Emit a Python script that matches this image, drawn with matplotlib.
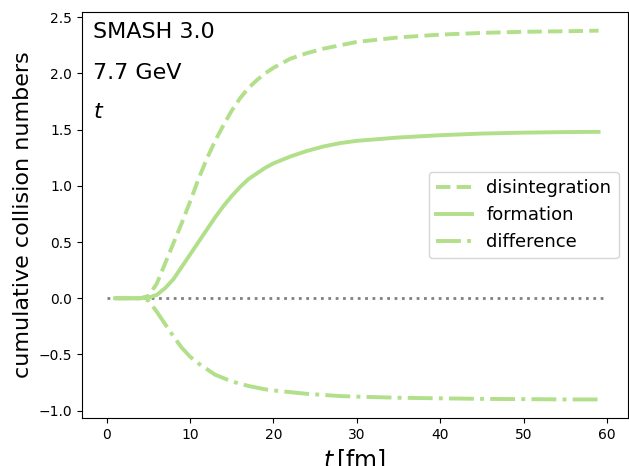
import matplotlib
matplotlib.use('Agg')
import matplotlib.pyplot as plt

# time grid [fm]
time = [1, 2, 3, 4, 5, 6, 7, 8, 9, 10, 11, 12, 13, 14, 15, 16, 17, 18, 19, 20,
        22, 24, 26, 28, 30, 35, 40, 45, 50, 55, 59]

disintegration = [0, 0, 0, 0, 0.02, 0.13, 0.31, 0.49, 0.67, 0.86, 1.06, 1.24,
                  1.40, 1.54, 1.67, 1.78, 1.87, 1.94, 2.00, 2.05,
                  2.13, 2.18, 2.22, 2.25, 2.28, 2.32, 2.345, 2.36, 2.37, 2.375, 2.38]

formation = [0, 0, 0, 0, 0.005, 0.03, 0.09, 0.17, 0.28, 0.39, 0.50, 0.61,
             0.72, 0.82, 0.91, 0.99, 1.06, 1.11, 1.16, 1.20,
             1.26, 1.31, 1.35, 1.38, 1.40, 1.43, 1.45, 1.465, 1.473, 1.478, 1.48]

difference = [0, 0, 0, 0, -0.02, -0.12, -0.23, -0.34, -0.44, -0.52, -0.58, -0.63,
              -0.68, -0.71, -0.74, -0.76, -0.78, -0.795, -0.81, -0.82,
              -0.835, -0.85, -0.86, -0.87, -0.875, -0.885, -0.89, -0.895, -0.897, -0.9, -0.9]

zero_x = [0, 60]
zero_y = [0, 0]

color = '#b2df8a'

fig, ax = plt.subplots(figsize=(6.29, 4.66), dpi=100)
fig.subplots_adjust(left=0.130, right=0.998, bottom=0.103, top=0.974)

ax.plot(zero_x, zero_y, ':', color='gray', lw=2)
ax.plot(time, disintegration, '--', color=color, lw=2.8, label='disintegration')
ax.plot(time, formation, '-', color=color, lw=2.8, label='formation')
ax.plot(time, difference, '-.', color=color, lw=2.8, label='difference')

ax.set_xlim(-3, 62.5)
ax.set_ylim(-1.065, 2.545)
ax.tick_params(labelsize=10)

ax.set_xlabel(r'$t\,[\mathrm{fm}]$', fontsize=17)
ax.set_ylabel('cumulative collision numbers', fontsize=16)

ax.text(0.02, 0.936, 'SMASH 3.0', transform=ax.transAxes, fontsize=16, va='baseline')
ax.text(0.02, 0.835, '7.7 GeV', transform=ax.transAxes, fontsize=16, va='baseline')
ax.text(0.02, 0.739, r'$t$', transform=ax.transAxes, fontsize=16, va='baseline')

ax.legend(loc='center right', fontsize=13)

fig.savefig('out.png', dpi=100)
